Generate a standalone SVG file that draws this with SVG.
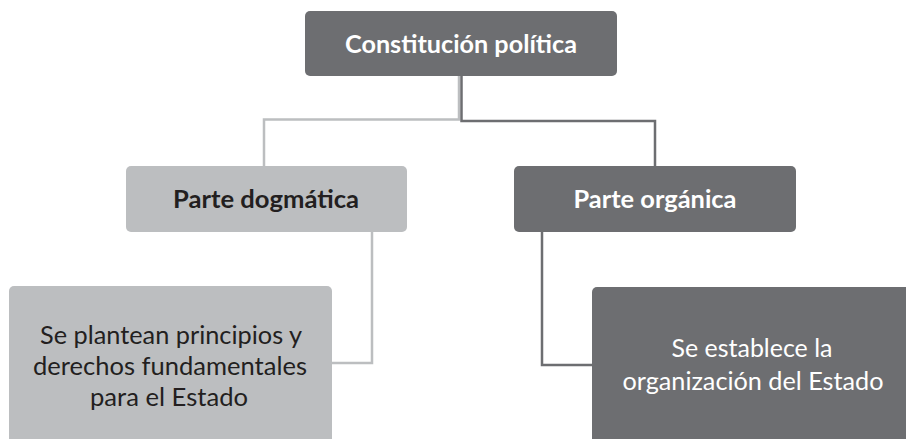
<svg xmlns="http://www.w3.org/2000/svg" width="906" height="439" viewBox="0 0 906 439">
<style>
.dark{fill:#6d6e71}
.light{fill:#bcbec0}
.t{font-family:Lato,"Open Sans","Liberation Sans",sans-serif;text-anchor:middle}
.b{font-weight:700;font-size:24px}
.r{font-weight:400;font-size:25px}
.w{fill:#ffffff}
.k{fill:#231f20}
.cl{fill:none;stroke:#bcbec0;stroke-width:2.5}
.cd{fill:none;stroke:#6d6e71;stroke-width:2.5}
</style>
<rect width="906" height="439" fill="#ffffff"/>
<g id="connectors">
<path class="cl" d="M459 76 V119.5 H264 V167"/>
<path class="cd" d="M461.5 76 V121 H655 V167"/>
<path class="cl" d="M372 232 V363 H332"/>
<path class="cd" d="M542 232 V365 H592"/>
</g>
<g id="constitucion">
<rect class="dark" x="305" y="11" width="312" height="65" rx="5"/>
<text class="t b w" x="461" y="53" textLength="232" lengthAdjust="spacingAndGlyphs">Constitución política</text>
</g>
<g id="dogmatica">
<rect class="light" x="126" y="166" width="281" height="66" rx="5"/>
<text class="t b k" x="266" y="208" textLength="186" lengthAdjust="spacingAndGlyphs">Parte dogmática</text>
</g>
<g id="organica">
<rect class="dark" x="514" y="166" width="282" height="66" rx="5"/>
<text class="t b w" x="655" y="208" textLength="163" lengthAdjust="spacingAndGlyphs">Parte orgánica</text>
</g>
<g id="principios">
<rect class="light" x="9" y="286" width="323" height="170" rx="5"/>
<text class="t r k" x="171" y="344" textLength="262" lengthAdjust="spacingAndGlyphs">Se plantean principios y</text>
<text class="t r k" x="170" y="375" textLength="274" lengthAdjust="spacingAndGlyphs">derechos fundamentales</text>
<text class="t r k" x="169" y="406" textLength="158" lengthAdjust="spacingAndGlyphs">para el Estado</text>
</g>
<g id="organizacion">
<rect class="dark" x="592" y="287" width="330" height="170" rx="5"/>
<text class="t r w" x="752" y="357" textLength="161" lengthAdjust="spacingAndGlyphs">Se establece la</text>
<text class="t r w" x="753" y="390" textLength="261" lengthAdjust="spacingAndGlyphs">organización del Estado</text>
</g>
</svg>
